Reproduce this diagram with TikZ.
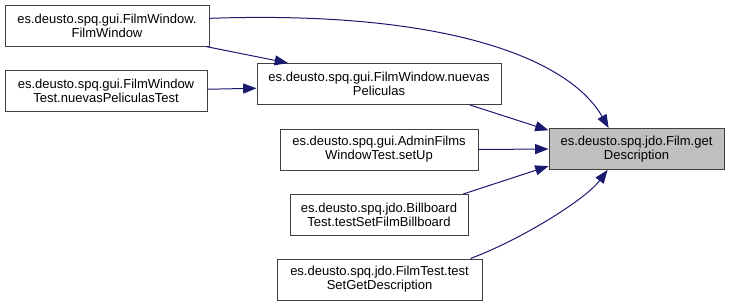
\documentclass[tikz,border=0pt]{standalone}
\usepackage{fontspec}
\setmainfont{Liberation Sans}
\usetikzlibrary{arrows.meta}
\definecolor{navy}{RGB}{25,25,112}
\definecolor{boxline}{RGB}{64,64,64}
\definecolor{grey}{RGB}{191,191,191}

\begin{document}
\begin{tikzpicture}[x=0.75pt,y=-0.75pt]
    \tikzset{%
      fn/.style={rectangle, draw=boxline, line width=0.75pt, fill=white,
        inner sep=0pt, minimum height=30.75pt, align=center,
        font=\fontsize{9.75}{10.5}\selectfont},
      cur/.style={fn, fill=grey},
      call/.style={draw=navy, line width=0.75pt,
        -{Triangle[length=10pt,width=7.5pt]}, navy},
    }
    \useasboundingbox (0,0) rectangle (731,307);

    % the function and its callers
    \node[cur, minimum width=131.25pt] (G) at (636.5,149) {es.deusto.spq.jdo.Film.get\\Description};
    \node[fn, minimum width=153pt] (A) at (107,25.5) {es.deusto.spq.gui.FilmWindow.\\FilmWindow};
    \node[fn, minimum width=151.5pt] (B) at (106,91) {es.deusto.spq.gui.FilmWindow\\Test.nuevasPeliculasTest};
    \node[fn, minimum width=183pt] (C) at (379,84) {es.deusto.spq.gui.FilmWindow.nuevas\\Peliculas};
    \node[fn, minimum width=148.5pt] (D) at (379,149.5) {es.deusto.spq.gui.AdminFilms\\WindowTest.setUp};
    \node[fn, minimum width=133.5pt] (E) at (379,215) {es.deusto.spq.jdo.Billboard\\Test.testSetFilmBillboard};
    \node[fn, minimum width=153.75pt] (F) at (379.5,279.5) {es.deusto.spq.jdo.FilmTest.test\\SetGetDescription};

    % calls
    \draw[call] (A.4.5) .. controls (450,10) and (570,60) .. (G.143);
    \draw[call] (A.-12) -- (C.167.7);
    \draw[call] (B.1) -- (C.182);
    \draw[call] (C.-13.9) -- (G.168.4);
    \draw[call] (D.east) -- (G.west);
    \draw[call] (E.14) -- (G.191.6);
    \draw[call] (F.13) .. controls (520,240) and (585,200) .. (G.216);
\end{tikzpicture}
\end{document}
